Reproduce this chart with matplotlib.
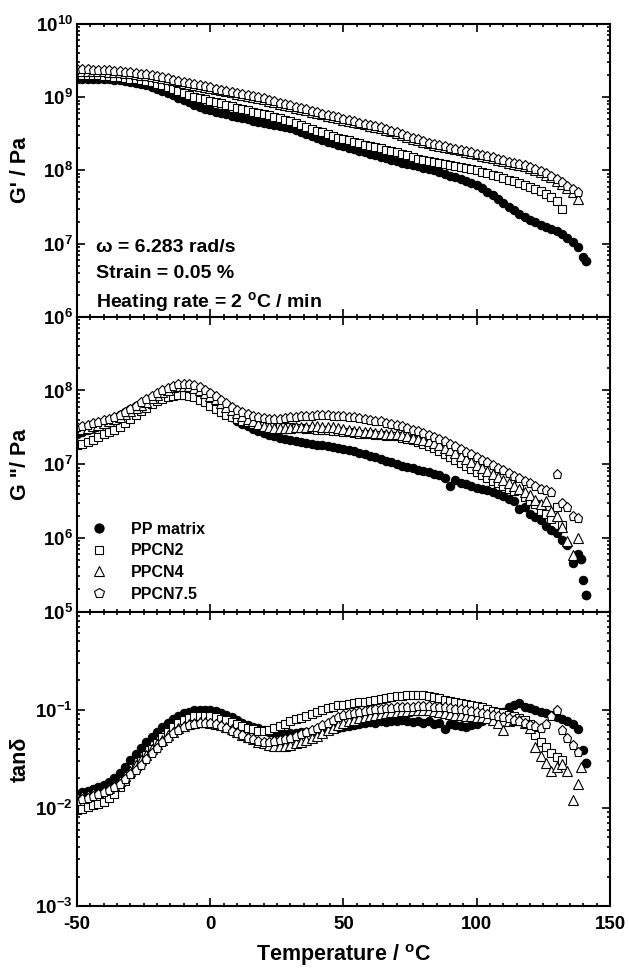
import numpy as np
import matplotlib
matplotlib.use('Agg')
import matplotlib.pyplot as plt
from matplotlib.ticker import MultipleLocator, LogLocator, FuncFormatter, NullFormatter

plt.rcParams['font.family'] = ['Liberation Sans', 'DejaVu Sans']
plt.rcParams['font.weight'] = 'bold'
plt.rcParams['mathtext.fontset'] = 'custom'
plt.rcParams['mathtext.rm'] = 'Liberation Sans:bold'
plt.rcParams['mathtext.bf'] = 'Liberation Sans:bold'
plt.rcParams['mathtext.it'] = 'Liberation Sans:bold'
plt.rcParams['axes.linewidth'] = 1.5
plt.rcParams['axes.unicode_minus'] = False

# temperature sweep (deg C), every 2 degrees
temp = [-50, -48, -46, -44, -42, -40, -38, -36, -34, -32, -30, -28,
        -26, -24, -22, -20, -18, -16, -14, -12, -10, -8, -6, -4,
        -2, 0, 2, 4, 6, 8, 10, 12, 14, 16, 18, 20,
        22, 24, 26, 28, 30, 32, 34, 36, 38, 40, 42, 44,
        46, 48, 50, 52, 54, 56, 58, 60, 62, 64, 66, 68,
        70, 72, 74, 76, 78, 80, 82, 84, 86, 88, 90, 92,
        94, 96, 98, 100, 102, 104, 106, 108, 110, 112, 114, 116,
        118, 120, 122, 124, 126, 128, 130, 132, 134, 136, 138, 140]

labels = ['PP matrix', 'PPCN2', 'PPCN4', 'PPCN7.5']

# storage modulus G' (Pa)
gp_pp = [1.80e9, 1.80e9, 1.79e9, 1.79e9, 1.78e9, 1.77e9, 1.75e9, 1.73e9, 1.70e9, 1.67e9, 1.63e9, 1.58e9,
         1.52e9, 1.45e9, 1.37e9, 1.29e9, 1.21e9, 1.14e9, 1.06e9, 9.9e8, 9.2e8, 8.5e8, 7.9e8, 7.4e8,
         7.0e8, 6.6e8, 6.3e8, 6.0e8, 5.8e8, 5.6e8, 5.4e8, 5.2e8, 5.0e8, 4.8e8, 4.65e8, 4.5e8,
         4.35e8, 4.2e8, 4.05e8, 3.9e8, 3.75e8, 3.55e8, 3.35e8, 3.15e8, 2.95e8, 2.75e8, 2.6e8, 2.45e8,
         2.35e8, 2.25e8, 2.15e8, 2.05e8, 1.95e8, 1.85e8, 1.76e8, 1.68e8, 1.6e8, 1.52e8, 1.46e8, 1.4e8,
         1.34e8, 1.28e8, 1.23e8, 1.18e8, 1.13e8, 1.09e8, 1.05e8, 1.0e8, 9.5e7, 9.0e7, 8.5e7, 8.0e7,
         7.6e7, 7.1e7, 6.7e7, 6.3e7, 5.7e7, 5.1e7, 4.6e7, 4.1e7, 3.6e7, 3.2e7, 2.85e7, 2.55e7,
         2.3e7, 2.1e7, 1.95e7, 1.8e7, 1.68e7, 1.57e7, 1.47e7, 1.35e7, 1.2e7, 1.05e7, 9.0e6, 6.5e6]
gp_n2 = [2.0e9, 2.0e9, 2.0e9, 1.99e9, 1.98e9, 1.96e9, 1.94e9, 1.91e9, 1.88e9, 1.84e9, 1.80e9, 1.76e9,
         1.72e9, 1.66e9, 1.59e9, 1.52e9, 1.45e9, 1.38e9, 1.30e9, 1.22e9, 1.14e9, 1.07e9, 1.01e9, 9.6e8,
         9.3e8, 9.0e8, 8.6e8, 8.2e8, 7.8e8, 7.5e8, 7.2e8, 6.9e8, 6.6e8, 6.3e8, 6.1e8, 5.9e8,
         5.65e8, 5.4e8, 5.2e8, 4.95e8, 4.7e8, 4.45e8, 4.2e8, 3.95e8, 3.7e8, 3.5e8, 3.3e8, 3.1e8,
         2.95e8, 2.8e8, 2.68e8, 2.56e8, 2.45e8, 2.35e8, 2.25e8, 2.15e8, 2.07e8, 2.0e8, 1.92e8, 1.84e8,
         1.76e8, 1.68e8, 1.6e8, 1.52e8, 1.45e8, 1.38e8, 1.33e8, 1.29e8, 1.25e8, 1.21e8, 1.18e8, 1.15e8,
         1.12e8, 1.08e8, 1.04e8, 1.0e8, 9.5e7, 9.1e7, 8.7e7, 8.3e7, 7.9e7, 7.5e7, 7.1e7, 6.7e7,
         6.35e7, 6.0e7, 5.6e7, 5.2e7, 4.8e7, 4.3e7, 3.8e7, 3.0e7]
gp_n4 = [2.3e9, 2.3e9, 2.3e9, 2.29e9, 2.28e9, 2.26e9, 2.24e9, 2.21e9, 2.18e9, 2.15e9, 2.11e9, 2.07e9,
         2.03e9, 1.98e9, 1.93e9, 1.88e9, 1.82e9, 1.76e9, 1.70e9, 1.64e9, 1.58e9, 1.52e9, 1.47e9, 1.42e9,
         1.37e9, 1.33e9, 1.28e9, 1.24e9, 1.2e9, 1.16e9, 1.12e9, 1.08e9, 1.05e9, 1.01e9, 9.7e8, 9.3e8,
         8.9e8, 8.5e8, 8.1e8, 7.8e8, 7.5e8, 7.2e8, 6.9e8, 6.6e8, 6.3e8, 6.05e8, 5.8e8, 5.55e8,
         5.35e8, 5.15e8, 4.95e8, 4.75e8, 4.55e8, 4.4e8, 4.25e8, 4.1e8, 3.95e8, 3.8e8, 3.6e8, 3.4e8,
         3.2e8, 3.02e8, 2.87e8, 2.72e8, 2.58e8, 2.45e8, 2.33e8, 2.23e8, 2.15e8, 2.07e8, 2.0e8, 1.93e8,
         1.87e8, 1.8e8, 1.72e8, 1.65e8, 1.58e8, 1.52e8, 1.46e8, 1.4e8, 1.34e8, 1.28e8, 1.23e8, 1.18e8,
         1.13e8, 1.08e8, 1.01e8, 9.4e7, 8.7e7, 8.0e7, 7.2e7, 6.5e7, 5.8e7, 5.0e7, 4.0e7]
gp_n75 = [2.4e9, 2.4e9, 2.39e9, 2.38e9, 2.36e9, 2.34e9, 2.32e9, 2.29e9, 2.26e9, 2.22e9, 2.18e9, 2.14e9,
          2.1e9, 2.05e9, 1.99e9, 1.93e9, 1.87e9, 1.81e9, 1.74e9, 1.67e9, 1.61e9, 1.55e9, 1.5e9, 1.45e9,
          1.4e9, 1.36e9, 1.31e9, 1.27e9, 1.23e9, 1.19e9, 1.15e9, 1.11e9, 1.08e9, 1.04e9, 1.0e9, 9.6e8,
          9.2e8, 8.8e8, 8.4e8, 8.0e8, 7.7e8, 7.4e8, 7.1e8, 6.8e8, 6.5e8, 6.2e8, 5.95e8, 5.7e8,
          5.5e8, 5.3e8, 5.1e8, 4.9e8, 4.7e8, 4.5e8, 4.35e8, 4.2e8, 4.05e8, 3.9e8, 3.7e8, 3.5e8,
          3.3e8, 3.1e8, 2.95e8, 2.8e8, 2.65e8, 2.5e8, 2.38e8, 2.28e8, 2.2e8, 2.12e8, 2.05e8, 1.98e8,
          1.92e8, 1.86e8, 1.78e8, 1.7e8, 1.63e8, 1.56e8, 1.5e8, 1.44e8, 1.38e8, 1.32e8, 1.27e8, 1.22e8,
          1.17e8, 1.12e8, 1.05e8, 9.8e7, 9.1e7, 8.4e7, 7.6e7, 6.9e7, 6.2e7, 5.6e7, 5.1e7]

# loss modulus G'' (Pa)
gpp_pp = [2.6e7, 2.75e7, 2.9e7, 3.1e7, 3.3e7, 3.55e7, 3.85e7, 4.2e7, 4.6e7, 5.1e7, 5.6e7, 6.1e7,
          6.6e7, 7.2e7, 7.9e7, 8.5e7, 9.1e7, 9.6e7, 1.0e8, 1.02e8, 1.02e8, 1.0e8, 9.6e7, 9.0e7,
          7.6e7, 6.8e7, 6.0e7, 5.4e7, 4.9e7, 4.4e7, 3.9e7, 3.55e7, 3.25e7, 3.0e7, 2.8e7, 2.65e7,
          2.5e7, 2.4e7, 2.3e7, 2.2e7, 2.1e7, 2.05e7, 2.0e7, 1.95e7, 1.9e7, 1.85e7, 1.8e7, 1.75e7,
          1.72e7, 1.65e7, 1.6e7, 1.55e7, 1.5e7, 1.42e7, 1.38e7, 1.3e7, 1.25e7, 1.18e7, 1.12e7, 1.08e7,
          1.02e7, 9.6e6, 9.3e6, 8.9e6, 8.4e6, 8.2e6, 7.9e6, 7.4e6, 7.2e6, 6.6e6, 5.0e6, 6.2e6,
          5.6e6, 5.4e6, 5.0e6, 4.8e6, 4.6e6, 4.4e6, 4.2e6, 4.0e6, 3.7e6, 3.4e6, 3.2e6, 2.5e6,
          2.6e6, 2.1e6, 1.9e6, 1.75e6, 1.45e6, 1.3e6, 1.15e6, 9.5e5, 8.0e5, 4.6e5, 6.0e5, 2.7e5]
gpp_n2 = [1.85e7, 1.9e7, 2.0e7, 2.15e7, 2.35e7, 2.55e7, 2.75e7, 2.95e7, 3.2e7, 3.6e7, 4.1e7, 4.6e7,
          5.2e7, 5.8e7, 6.5e7, 7.1e7, 7.7e7, 8.2e7, 8.5e7, 8.7e7, 8.7e7, 8.5e7, 8.1e7, 7.5e7,
          6.9e7, 6.2e7, 5.6e7, 5.1e7, 4.7e7, 4.4e7, 4.1e7, 3.9e7, 3.7e7, 3.55e7, 3.45e7, 3.4e7,
          3.35e7, 3.3e7, 3.25e7, 3.2e7, 3.15e7, 3.1e7, 3.05e7, 3.0e7, 3.0e7, 2.95e7, 2.95e7, 2.9e7,
          2.85e7, 2.8e7, 2.75e7, 2.7e7, 2.65e7, 2.6e7, 2.6e7, 2.55e7, 2.5e7, 2.5e7, 2.45e7, 2.45e7,
          2.4e7, 2.3e7, 2.2e7, 2.1e7, 2.0e7, 1.9e7, 1.78e7, 1.65e7, 1.5e7, 1.38e7, 1.26e7, 1.15e7,
          1.05e7, 9.5e6, 8.6e6, 7.9e6, 7.2e6, 6.6e6, 6.0e6, 5.5e6, 5.0e6, 4.6e6, 4.3e6, 5.2e6,
          3.6e6, 3.2e6, 2.9e6, 2.3e6, 2.1e6, 1.8e6, 2.6e6, 1.5e6]
gpp_n4 = [2.9e7, 3.0e7, 3.1e7, 3.25e7, 3.4e7, 3.6e7, 3.8e7, 4.1e7, 4.4e7, 4.8e7, 5.3e7, 5.8e7,
          6.3e7, 7.0e7, 7.8e7, 8.6e7, 9.5e7, 1.03e8, 1.1e8, 1.15e8, 1.16e8, 1.14e8, 1.08e8, 1.0e8,
          9.3e7, 8.4e7, 7.6e7, 6.8e7, 6.0e7, 5.4e7, 4.9e7, 4.5e7, 4.1e7, 3.8e7, 3.5e7, 3.3e7,
          3.2e7, 3.1e7, 3.1e7, 3.1e7, 3.1e7, 3.15e7, 3.2e7, 3.2e7, 3.25e7, 3.25e7, 3.2e7, 3.2e7,
          3.15e7, 3.1e7, 3.0e7, 2.95e7, 2.85e7, 2.8e7, 2.75e7, 2.7e7, 2.65e7, 2.65e7, 2.6e7, 2.6e7,
          2.55e7, 2.5e7, 2.4e7, 2.3e7, 2.2e7, 2.1e7, 2.05e7, 1.95e7, 1.8e7, 1.68e7, 1.55e7, 1.42e7,
          1.3e7, 1.18e7, 1.08e7, 9.8e6, 9.0e6, 8.2e6, 7.4e6, 6.7e6, 6.1e6, 5.6e6, 5.1e6, 4.6e6,
          4.2e6, 3.8e6, 3.3e6, 2.9e6, 3.2e6, 2.3e6, 2.0e6, 1.4e6, 9.0e5, 5.8e5, 1.0e6]
gpp_n75 = [3.2e7, 3.3e7, 3.45e7, 3.6e7, 3.75e7, 3.95e7, 4.15e7, 4.4e7, 4.7e7, 5.1e7, 5.6e7, 6.2e7,
           6.9e7, 7.6e7, 8.4e7, 9.2e7, 1.0e8, 1.08e8, 1.16e8, 1.21e8, 1.23e8, 1.22e8, 1.17e8, 1.1e8,
           1.02e8, 9.2e7, 8.3e7, 7.5e7, 6.7e7, 6.0e7, 5.5e7, 5.1e7, 4.8e7, 4.5e7, 4.3e7, 4.2e7,
           4.15e7, 4.1e7, 4.15e7, 4.2e7, 4.3e7, 4.35e7, 4.45e7, 4.5e7, 4.55e7, 4.6e7, 4.6e7, 4.6e7,
           4.55e7, 4.5e7, 4.45e7, 4.4e7, 4.3e7, 4.2e7, 4.1e7, 4.0e7, 3.9e7, 3.8e7, 3.65e7, 3.5e7,
           3.4e7, 3.25e7, 3.1e7, 2.95e7, 2.8e7, 2.65e7, 2.5e7, 2.35e7, 2.2e7, 2.05e7, 1.9e7, 1.75e7,
           1.6e7, 1.48e7, 1.36e7, 1.25e7, 1.15e7, 1.06e7, 9.8e6, 9.0e6, 8.3e6, 7.6e6, 7.0e6, 6.4e6,
           5.9e6, 5.5e6, 5.0e6, 4.6e6, 4.4e6, 4.2e6, 7.4e6, 3.0e6, 2.6e6, 2.0e6, 1.85e6]

# loss tangent
tan_pp = [0.0140, 0.0145, 0.0150, 0.0155, 0.0162, 0.0170, 0.0182, 0.0200, 0.0226, 0.0262, 0.0305, 0.0352,
          0.0405, 0.0465, 0.0530, 0.0600, 0.0670, 0.0740, 0.0810, 0.0870, 0.0920, 0.0960, 0.0985, 0.1000,
          0.1000, 0.0990, 0.0965, 0.0930, 0.0885, 0.0835, 0.0785, 0.0740, 0.0700, 0.0670, 0.0645, 0.0620,
          0.0600, 0.0585, 0.0575, 0.0570, 0.0575, 0.0585, 0.0595, 0.0600, 0.0605, 0.0610, 0.0615, 0.0620,
          0.0640, 0.0650, 0.0665, 0.0680, 0.0700, 0.0720, 0.0740, 0.0750, 0.0740, 0.0760, 0.0750, 0.0770,
          0.0760, 0.0780, 0.0760, 0.0750, 0.0770, 0.0740, 0.0760, 0.0720, 0.0740, 0.0630, 0.0720, 0.0700,
          0.0690, 0.0670, 0.0700, 0.0720, 0.0760, 0.0820, 0.0880, 0.0930, 0.0960, 0.1080, 0.1120, 0.1160,
          0.1080, 0.1040, 0.1000, 0.0960, 0.0920, 0.0880, 0.0850, 0.0800, 0.0760, 0.0720, 0.0630, 0.0390]
tan_n2 = [0.0095, 0.0098, 0.0102, 0.0106, 0.0110, 0.0116, 0.0125, 0.0140, 0.0162, 0.0190, 0.0222, 0.0258,
          0.0298, 0.0345, 0.0400, 0.0460, 0.0530, 0.0600, 0.0665, 0.0730, 0.0780, 0.0830, 0.0860, 0.0870,
          0.0870, 0.0860, 0.0840, 0.0815, 0.0785, 0.0750, 0.0715, 0.0685, 0.0655, 0.0630, 0.0615, 0.0610,
          0.0620, 0.0645, 0.0680, 0.0720, 0.0760, 0.0800, 0.0830, 0.0870, 0.0910, 0.0960, 0.1000, 0.1050,
          0.1080, 0.1110, 0.1130, 0.1150, 0.1170, 0.1190, 0.1210, 0.1230, 0.1250, 0.1280, 0.1310, 0.1340,
          0.1370, 0.1390, 0.1400, 0.1410, 0.1410, 0.1400, 0.1380, 0.1350, 0.1310, 0.1270, 0.1230, 0.1200,
          0.1170, 0.1140, 0.1110, 0.1090, 0.1060, 0.1020, 0.0980, 0.0950, 0.0920, 0.0890, 0.0860, 0.0820,
          0.0780, 0.0720, 0.0560, 0.0470, 0.0420, 0.0360, 0.0330, 0.0310]
tan_n4 = [0.0130, 0.0133, 0.0137, 0.0141, 0.0146, 0.0152, 0.0160, 0.0172, 0.0190, 0.0212, 0.0240, 0.0272,
          0.0308, 0.0350, 0.0395, 0.0445, 0.0495, 0.0550, 0.0600, 0.0650, 0.0690, 0.0720, 0.0740, 0.0750,
          0.0750, 0.0740, 0.0720, 0.0695, 0.0665, 0.0630, 0.0595, 0.0560, 0.0530, 0.0500, 0.0475, 0.0455,
          0.0440, 0.0430, 0.0425, 0.0430, 0.0440, 0.0455, 0.0470, 0.0490, 0.0515, 0.0545, 0.0580, 0.0620,
          0.0660, 0.0700, 0.0730, 0.0760, 0.0790, 0.0820, 0.0850, 0.0870, 0.0890, 0.0910, 0.0930, 0.0950,
          0.0960, 0.0970, 0.0980, 0.0990, 0.1000, 0.1000, 0.0990, 0.0970, 0.0950, 0.0930, 0.0910, 0.0890,
          0.0880, 0.0870, 0.0860, 0.0850, 0.0840, 0.0820, 0.0780, 0.0730, 0.0620, 0.0760, 0.0790, 0.0780,
          0.0740, 0.0650, 0.0420, 0.0340, 0.0290, 0.0240, 0.0260, 0.0280, 0.0240, 0.0120, 0.0175]
tan_n75 = [0.0118, 0.0122, 0.0127, 0.0132, 0.0138, 0.0145, 0.0153, 0.0162, 0.0175, 0.0195, 0.0220, 0.0245,
           0.0275, 0.0315, 0.0360, 0.0410, 0.0465, 0.0520, 0.0575, 0.0625, 0.0665, 0.0700, 0.0725, 0.0740,
           0.0740, 0.0730, 0.0710, 0.0685, 0.0650, 0.0615, 0.0580, 0.0550, 0.0520, 0.0500, 0.0485, 0.0475,
           0.0475, 0.0480, 0.0490, 0.0505, 0.0520, 0.0540, 0.0565, 0.0590, 0.0620, 0.0655, 0.0695, 0.0740,
           0.0790, 0.0840, 0.0880, 0.0910, 0.0935, 0.0955, 0.0975, 0.0990, 0.1010, 0.1020, 0.1035, 0.1050,
           0.1060, 0.1070, 0.1075, 0.1080, 0.1085, 0.1085, 0.1085, 0.1080, 0.1075, 0.1065, 0.1050, 0.1030,
           0.1010, 0.0990, 0.0970, 0.0950, 0.0930, 0.0910, 0.0890, 0.0870, 0.0850, 0.0820, 0.0790, 0.0760,
           0.0730, 0.0700, 0.0680, 0.0660, 0.0720, 0.0860, 0.1000, 0.0620, 0.0510, 0.0440, 0.0370]

# last few points past the regular grid
pp_gp_end_t, pp_gp_end = [141], [5.8e6]
pp_gpp_end_t, pp_gpp_end = [139, 141], [5.2e5, 1.7e5]
pp_tan_end_t, pp_tan_end = [141], [0.029]
n4_tan_end_t, n4_tan_end = [139], [0.026]

markers = ['o', 's', '^', 'p']
sizes = [6.0, 5.5, 6.5, 6.5]
faces = ['black', 'white', 'white', 'white']


def draw(ax, series):
    for vals, mk, ms, fc, lab in zip(series, markers, sizes, faces, labels):
        ax.plot(temp[:len(vals)], vals, linestyle='none', marker=mk, ms=ms,
                mfc=fc, mec='black', mew=0.8, label=lab)


def style(ax, lo, hi, hide_top):
    ax.set_xlim(-50, 150)
    ax.set_yscale('log')
    ax.set_ylim(10.0 ** lo, 10.0 ** hi)
    ax.xaxis.set_major_locator(MultipleLocator(50))
    ax.xaxis.set_minor_locator(MultipleLocator(5))
    ax.yaxis.set_major_locator(LogLocator(base=10, numticks=20))
    ax.yaxis.set_minor_locator(LogLocator(base=10, subs=np.arange(2, 10), numticks=20))
    ax.yaxis.set_minor_formatter(NullFormatter())

    def fmt(v, pos):
        e = int(round(np.log10(v)))
        if hide_top and e == hi:
            return ''
        return r'$10^{%d}$' % e
    ax.yaxis.set_major_formatter(FuncFormatter(fmt))
    ax.tick_params(which='both', direction='in', top=True, right=True, width=1.2,
                   labelsize=13.5, pad=3)
    ax.tick_params(which='major', length=5.5)
    ax.tick_params(which='minor', length=2.5)
    ax.yaxis.set_label_coords(-0.086, 0.5)


fig = plt.figure(figsize=(6.29, 9.68), dpi=100)
left, width = 0.1224, 0.8474
ax1 = fig.add_axes([left, 0.6728, width, 0.3024])
ax2 = fig.add_axes([left, 0.3681, width, 0.3047])
ax3 = fig.add_axes([left, 0.0640, width, 0.3041])

draw(ax1, [gp_pp, gp_n2, gp_n4, gp_n75])
ax1.plot(pp_gp_end_t, pp_gp_end, linestyle='none', marker='o', ms=6, color='black')
style(ax1, 6, 10, False)
ax1.set_ylabel("G' / Pa", fontsize=15.5, fontweight='bold')
ax1.tick_params(labelbottom=False)
ax1.text(0.036, 0.235, 'ω = 6.283 rad/s', transform=ax1.transAxes, fontsize=14,
         fontweight='bold', va='center')
ax1.text(0.036, 0.149, 'Strain = 0.05 %', transform=ax1.transAxes, fontsize=14,
         fontweight='bold', va='center')
ax1.text(0.036, 0.052, r'Heating rate = 2 $^{\mathrm{o}}$C / min', transform=ax1.transAxes,
         fontsize=14, fontweight='bold', va='center')

draw(ax2, [gpp_pp, gpp_n2, gpp_n4, gpp_n75])
ax2.plot(pp_gpp_end_t, pp_gpp_end, linestyle='none', marker='o', ms=6, color='black')
style(ax2, 5, 9, True)
ax2.set_ylabel('G "/ Pa', fontsize=15.5, fontweight='bold')
ax2.tick_params(labelbottom=False)
ax2.legend(loc='lower left', bbox_to_anchor=(0.012, 0.012), frameon=False,
           prop={'weight': 'bold', 'size': 11.5}, handletextpad=1.4, labelspacing=0.42,
           handlelength=1.2, borderaxespad=0, markerscale=1.1)

draw(ax3, [tan_pp, tan_n2, tan_n4, tan_n75])
ax3.plot(pp_tan_end_t, pp_tan_end, linestyle='none', marker='o', ms=6, color='black')
ax3.plot(n4_tan_end_t, n4_tan_end, linestyle='none', marker='^', ms=6.5, mfc='white',
         mec='black', mew=0.8)
style(ax3, -3, 0, True)
ax3.set_ylabel('tanδ', fontsize=15.5, fontweight='bold')
ax3.tick_params(axis='x', pad=7)
ax3.set_xlabel(r'Temperature / $^{\mathrm{o}}$C', fontsize=15.5, fontweight='bold', labelpad=7)

fig.savefig('out.png', dpi=100)
